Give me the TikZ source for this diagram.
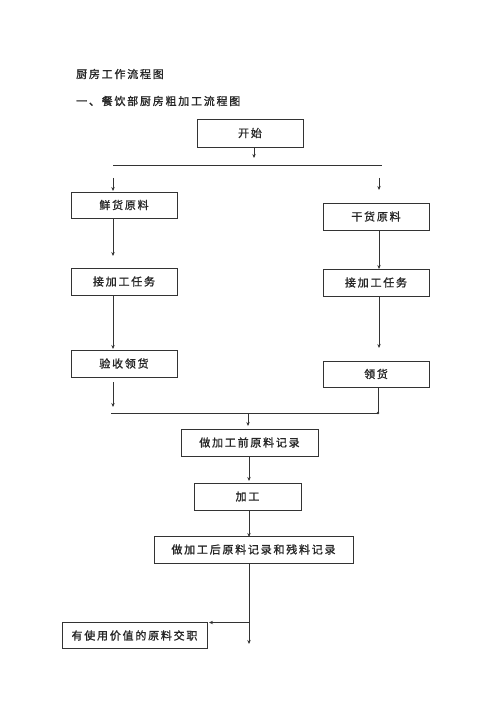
\documentclass[tikz,border=0pt]{standalone}
\usepackage{fontspec}
\newfontfamily\cjk[LetterSpace=16,FakeBold=1.2]{Noto Sans CJK SC}
\usetikzlibrary{arrows.meta}
\begin{document}
\begin{tikzpicture}[x=1pt,y=-1pt,
  box/.style={draw=black!80,line width=0.8pt,minimum height=27pt,inner sep=0pt,font=\cjk\fontsize{11}{13}\selectfont,text=black!85},
  ln/.style={draw=black!80,line width=0.8pt},
  arr/.style={ln,-{Stealth[length=4pt,width=3.4pt]}},
  ttl/.style={anchor=west,inner sep=0pt,font=\cjk\fontsize{11}{13}\selectfont,text=black!85}]
\useasboundingbox (0,0) rectangle (500,708);
\fill[white] (0,0) rectangle (500,708);
\node[ttl] (t1) at (76,74) {厨房工作流程图};
\node[ttl] (t2) at (76,101) {一、餐饮部厨房粗加工流程图};

\node[box,minimum width=106pt,minimum height=28pt] (start) at (250,133) {开始};
\node[box,minimum width=106pt,minimum height=26pt] (fresh) at (124,205) {鲜货原料};
\node[box,minimum width=106pt] (dry) at (376,216.5) {干货原料};
\node[box,minimum width=106pt] (taskL) at (124,281.5) {接加工任务};
\node[box,minimum width=106pt] (taskR) at (376,282.5) {接加工任务};
\node[box,minimum width=106pt] (check) at (124,363.5) {验收领货};
\node[box,minimum width=106pt,minimum height=26pt] (get) at (376,374) {领货};
\node[box,minimum width=137pt] (pre) at (249.5,442.5) {做加工前原料记录};
\node[box,minimum width=107pt] (proc) at (247.5,496.5) {加工};
\node[box,minimum width=199pt] (post) at (253.5,549.5) {做加工后原料记录和残料记录};
\node[box,minimum width=145pt,minimum height=26pt] (give) at (134.5,635.5) {有使用价值的原料交职};

% split
\coordinate (s1) at (254,158);
\draw[arr] (start.south -| s1) -- (s1);
\coordinate (hL) at (113,165);
\coordinate (hR) at (382,165);
\draw[ln] (hL) -- (hR);
\coordinate (aL0) at (113,178);
\coordinate (aL1) at (113,191);
\coordinate (aR0) at (379,178);
\coordinate (aR1) at (379,190);
\draw[arr] (aL0) -- (aL1);
\draw[arr] (aR0) -- (aR1);

% left column
\coordinate (l1) at (113,256);
\coordinate (l2) at (113,349);
\coordinate (l3a) at (113,382);
\coordinate (l3) at (113,407);
\draw[arr] (fresh.south -| l1) -- (l1);
\draw[arr] (taskL.south -| l2) -- (l2);
\draw[arr] (l3a) -- (l3);

% right column
\coordinate (r1) at (379,269);
\coordinate (r2) at (379,348);
\coordinate (r3) at (378,413);
\draw[arr] (dry.south -| r1) -- (r1);
\draw[arr] (taskR.south -| r2) -- (r2);
\draw[ln] (get.south -| r3) -- (r3);
\fill[black!80] (r3) circle (1.3pt);

% merge
\coordinate (mL) at (111,413);
\draw[ln] (mL) -- (r3);
\coordinate (m0) at (248,413);
\coordinate (m1) at (248,426);
\draw[arr] (m0) -- (m1);

% lower chain
\coordinate (p1) at (249,481);
\coordinate (p2) at (249,537);
\coordinate (p3) at (249,644);
\coordinate (br) at (249,622.5);
\coordinate (brE) at (209,622.5);
\draw[arr] (pre.south -| p1) -- (p1);
\draw[arr] (proc.south -| p2) -- (p2);
\draw[arr] (post.south -| p3) -- (p3);
\draw[arr] (br) -- (brE);
\end{tikzpicture}
\end{document}
